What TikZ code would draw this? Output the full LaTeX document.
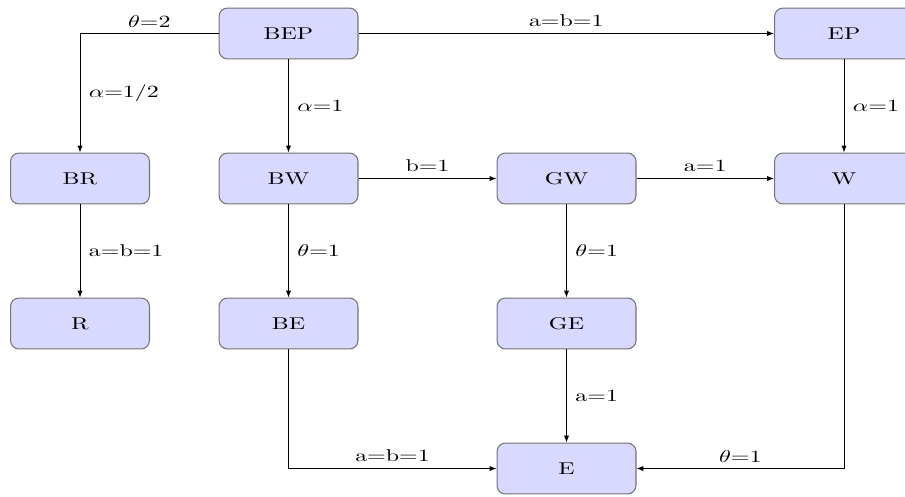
\documentclass[tikz,border=0pt]{standalone}
\usepackage{graphicx}
\usetikzlibrary{arrows.meta}
% labels are set a little wider than the font's natural shape
\newcommand\wide[1]{\scalebox{1.4}[1]{#1}}
\begin{document}
\begin{tikzpicture}[x=0.585pt,y=-0.585pt,
  state/.style={draw=black!55, fill=blue!15, rounded corners=5pt,
    minimum width=81.3pt, minimum height=29.8pt, inner sep=0pt, line width=0.6pt},
  link/.style={-{Latex[length=4pt,width=3pt]}, line width=0.5pt},
  lab/.style={inner sep=0pt, font=\normalsize}]
\useasboundingbox (0,0) rectangle (905,496);

% states
\node[state] (BEP) at (288.5,33.5)  {\wide{BEP}};
\node[state] (EP)  at (844,33.5)    {\wide{EP}};
\node[state] (BR)  at (80,178.5)    {\wide{BR}};
\node[state] (BW)  at (288.5,178.5) {\wide{BW}};
\node[state] (GW)  at (566.5,178.5) {\wide{GW}};
\node[state] (W)   at (844,178.5)   {\wide{W}};
\node[state] (R)   at (80,323.5)    {\wide{R}};
\node[state] (BE)  at (288.5,323.5) {\wide{BE}};
\node[state] (GE)  at (566.5,323.5) {\wide{GE}};
\node[state] (E)   at (566.5,468.5) {\wide{E}};

% transitions
\draw[link] (BEP.west) -| node[lab, pos=0.25, above=3.5pt] {\wide{$\theta$=2}}
                          node[lab, pos=0.75, right=5pt] {\wide{$\alpha$=1/2}} (BR.north);
\draw[link] (BEP.south) -- node[lab, right=5pt] {\wide{$\alpha$=1}} (BW.north);
\draw[link] (BEP.east) -- node[lab, above=3.5pt] {\wide{a=b=1}} (EP.west);
\draw[link] (EP.south) -- node[lab, right=5pt] {\wide{$\alpha$=1}} (W.north);
\draw[link] (BR.south) -- node[lab, right=5pt] {\wide{a=b=1}} (R.north);
\draw[link] (BW.east) -- node[lab, above=3.5pt] {\wide{b=1}} (GW.west);
\draw[link] (BW.south) -- node[lab, right=5pt] {\wide{$\theta$=1}} (BE.north);
\draw[link] (GW.east) -- node[lab, above=3.5pt] {\wide{a=1}} (W.west);
\draw[link] (GW.south) -- node[lab, right=5pt] {\wide{$\theta$=1}} (GE.north);
\draw[link] (GE.south) -- node[lab, right=5pt] {\wide{a=1}} (E.north);
\draw[link] (BE.south) |- node[lab, pos=0.75, above=3.5pt] {\wide{a=b=1}} (E.west);
\draw[link] (W.south) |- node[lab, pos=0.75, above=3.5pt] {\wide{$\theta$=1}} (E.east);
\end{tikzpicture}
\end{document}
